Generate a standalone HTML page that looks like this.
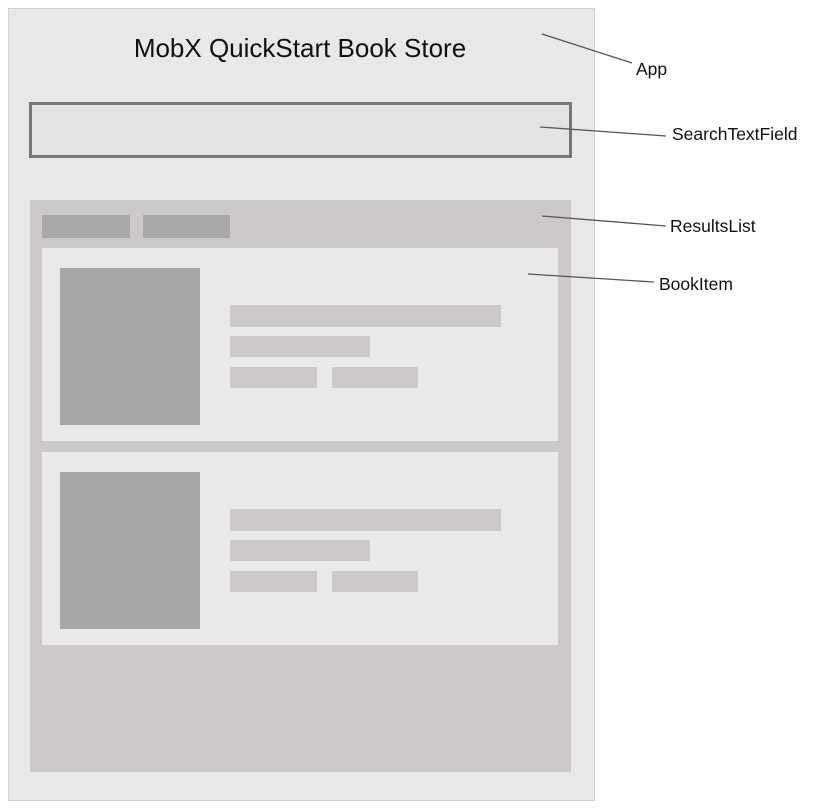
<!DOCTYPE html>
<html><head><style>
body{margin:0;background:#fff;width:813px;height:808px;position:relative;overflow:hidden;font-family:"Liberation Sans",sans-serif}
div{position:absolute;box-sizing:border-box}
.bar{background:#cdc9c9}
.lbl{font-size:17.5px;color:#111}
</style></head><body>
<div style="left:8px;top:8px;width:587px;height:793px;background:#e8e8e8;border:1px solid #d2d2d2"></div>
<div style="left:0px;top:33px;width:600px;text-align:center;font-size:26px;color:#111">MobX QuickStart Book Store</div>
<div style="left:29px;top:102px;width:543px;height:56px;background:#e3e3e3;border:3px solid #7a7676"></div>
<div style="left:30px;top:200px;width:541px;height:572px;background:#cdc9c9"></div>
<div style="left:42px;top:215px;width:88px;height:23px;background:#a8a8a8"></div>
<div style="left:143px;top:215px;width:87px;height:23px;background:#a8a8a8"></div>

<div style="left:42px;top:248px;width:516px;height:193px;background:#e9e9e9"></div>
<div style="left:60px;top:268px;width:140px;height:157px;background:#a6a6a6"></div>
<div class="bar" style="left:230px;top:305px;width:271px;height:22px"></div>
<div class="bar" style="left:230px;top:336px;width:140px;height:21px"></div>
<div class="bar" style="left:230px;top:367px;width:87px;height:21px"></div>
<div class="bar" style="left:332px;top:367px;width:86px;height:21px"></div>

<div style="left:42px;top:452px;width:516px;height:193px;background:#e9e9e9"></div>
<div style="left:60px;top:472px;width:140px;height:157px;background:#a6a6a6"></div>
<div class="bar" style="left:230px;top:509px;width:271px;height:22px"></div>
<div class="bar" style="left:230px;top:540px;width:140px;height:21px"></div>
<div class="bar" style="left:230px;top:571px;width:87px;height:21px"></div>
<div class="bar" style="left:332px;top:571px;width:86px;height:21px"></div>

<svg style="position:absolute;left:0;top:0" width="813" height="808">
<g stroke="#555" stroke-width="1.3">
<line x1="542" y1="34" x2="632" y2="63"/>
<line x1="540" y1="127" x2="666" y2="136"/>
<line x1="542" y1="216" x2="666" y2="226"/>
<line x1="528" y1="274" x2="654" y2="282"/>
</g></svg>
<div class="lbl" style="left:636px;top:59px">App</div>
<div class="lbl" style="left:672px;top:124px">SearchTextField</div>
<div class="lbl" style="left:670px;top:216px">ResultsList</div>
<div class="lbl" style="left:659px;top:274px">BookItem</div>
</body></html>
